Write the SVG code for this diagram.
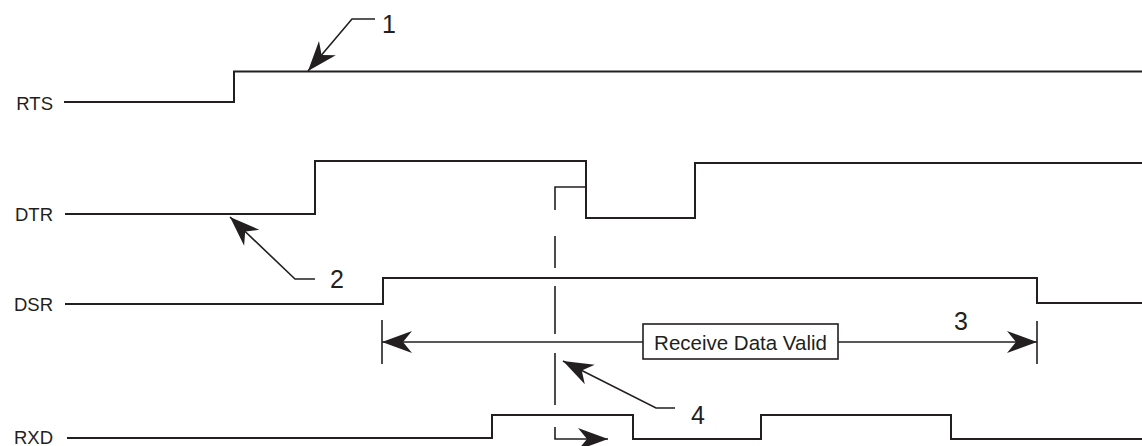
<svg xmlns="http://www.w3.org/2000/svg" width="1142" height="446" viewBox="0 0 1142 446">
<style>
.sig{fill:none;stroke:#231f20;stroke-width:2;stroke-linejoin:miter}
.ldr{fill:none;stroke:#231f20;stroke-width:1.6}
.lbl{font-family:"Liberation Sans",Arial,sans-serif;font-size:18.5px;fill:#231f20}
.num{font-family:"Liberation Sans",Arial,sans-serif;font-size:25px;fill:#231f20}
.box{fill:#fff;stroke:#231f20;stroke-width:1.6}
.boxt{font-family:"Liberation Sans",Arial,sans-serif;font-size:20.5px;fill:#231f20}
</style>
<defs>
<marker id="ah" markerUnits="userSpaceOnUse" markerWidth="34" markerHeight="28" viewBox="-32 -14 34 28" refX="0" refY="0" orient="auto">
<path d="M0,0 L-30,-11 L-21,0 L-30,11 Z" fill="#231f20"/>
</marker>
</defs>
<rect width="1142" height="446" fill="#fff"/>
<g id="rts">
<text class="lbl" x="53" y="110" text-anchor="end">RTS</text>
<polyline class="sig" points="64,102 234,102 234,71.5 1142,71.5"/>
</g>
<g id="dtr">
<text class="lbl" x="53" y="221" text-anchor="end">DTR</text>
<polyline class="sig" points="65,214 315,214 315,161 586,161 586,218 695,218 695,163 1142,163"/>
</g>
<g id="dsr">
<text class="lbl" x="53" y="311" text-anchor="end">DSR</text>
<polyline class="sig" points="65,304 383,304 383,278 1037,278 1037,303 1142,303"/>
</g>
<g id="rxd">
<text class="lbl" x="53" y="444" text-anchor="end">RXD</text>
<polyline class="sig" points="67,438 492,438 492,415 633,415 633,439 761,439 761,415 951,415 951,439 1142,439"/>
</g>
<g id="connectors">
<polyline class="ldr" points="375,19 352,19 308,71" marker-end="url(#ah)"/>
<polyline class="ldr" points="315,279 295,279 230,217" marker-end="url(#ah)"/>
<polyline class="ldr" points="675,408 656,408 563,361" marker-end="url(#ah)"/>
<line class="ldr" x1="643" y1="342" x2="382" y2="342" marker-end="url(#ah)"/>
<line class="ldr" x1="838" y1="342" x2="1037" y2="342" marker-end="url(#ah)"/>
<line class="ldr" x1="382" y1="320" x2="382" y2="364"/>
<line class="ldr" x1="1037" y1="321" x2="1037" y2="364"/>
<polyline class="ldr" points="585,187 555,187 555,210"/>
<line class="ldr" x1="555" y1="236" x2="555" y2="268"/>
<line class="ldr" x1="555" y1="286" x2="555" y2="334"/>
<line class="ldr" x1="555" y1="353" x2="555" y2="405"/>
<polyline class="ldr" points="555,427 555,439 608,439" marker-end="url(#ah)"/>
</g>
<g id="box">
<rect class="box" x="643" y="324" width="195" height="35"/>
<text class="boxt" x="740.5" y="349.5" text-anchor="middle">Receive Data Valid</text>
</g>
<g id="callouts">
<text class="num" x="382" y="33">1</text>
<text class="num" x="330" y="288">2</text>
<text class="num" x="954" y="330">3</text>
<text class="num" x="691" y="424">4</text>
</g>
</svg>
